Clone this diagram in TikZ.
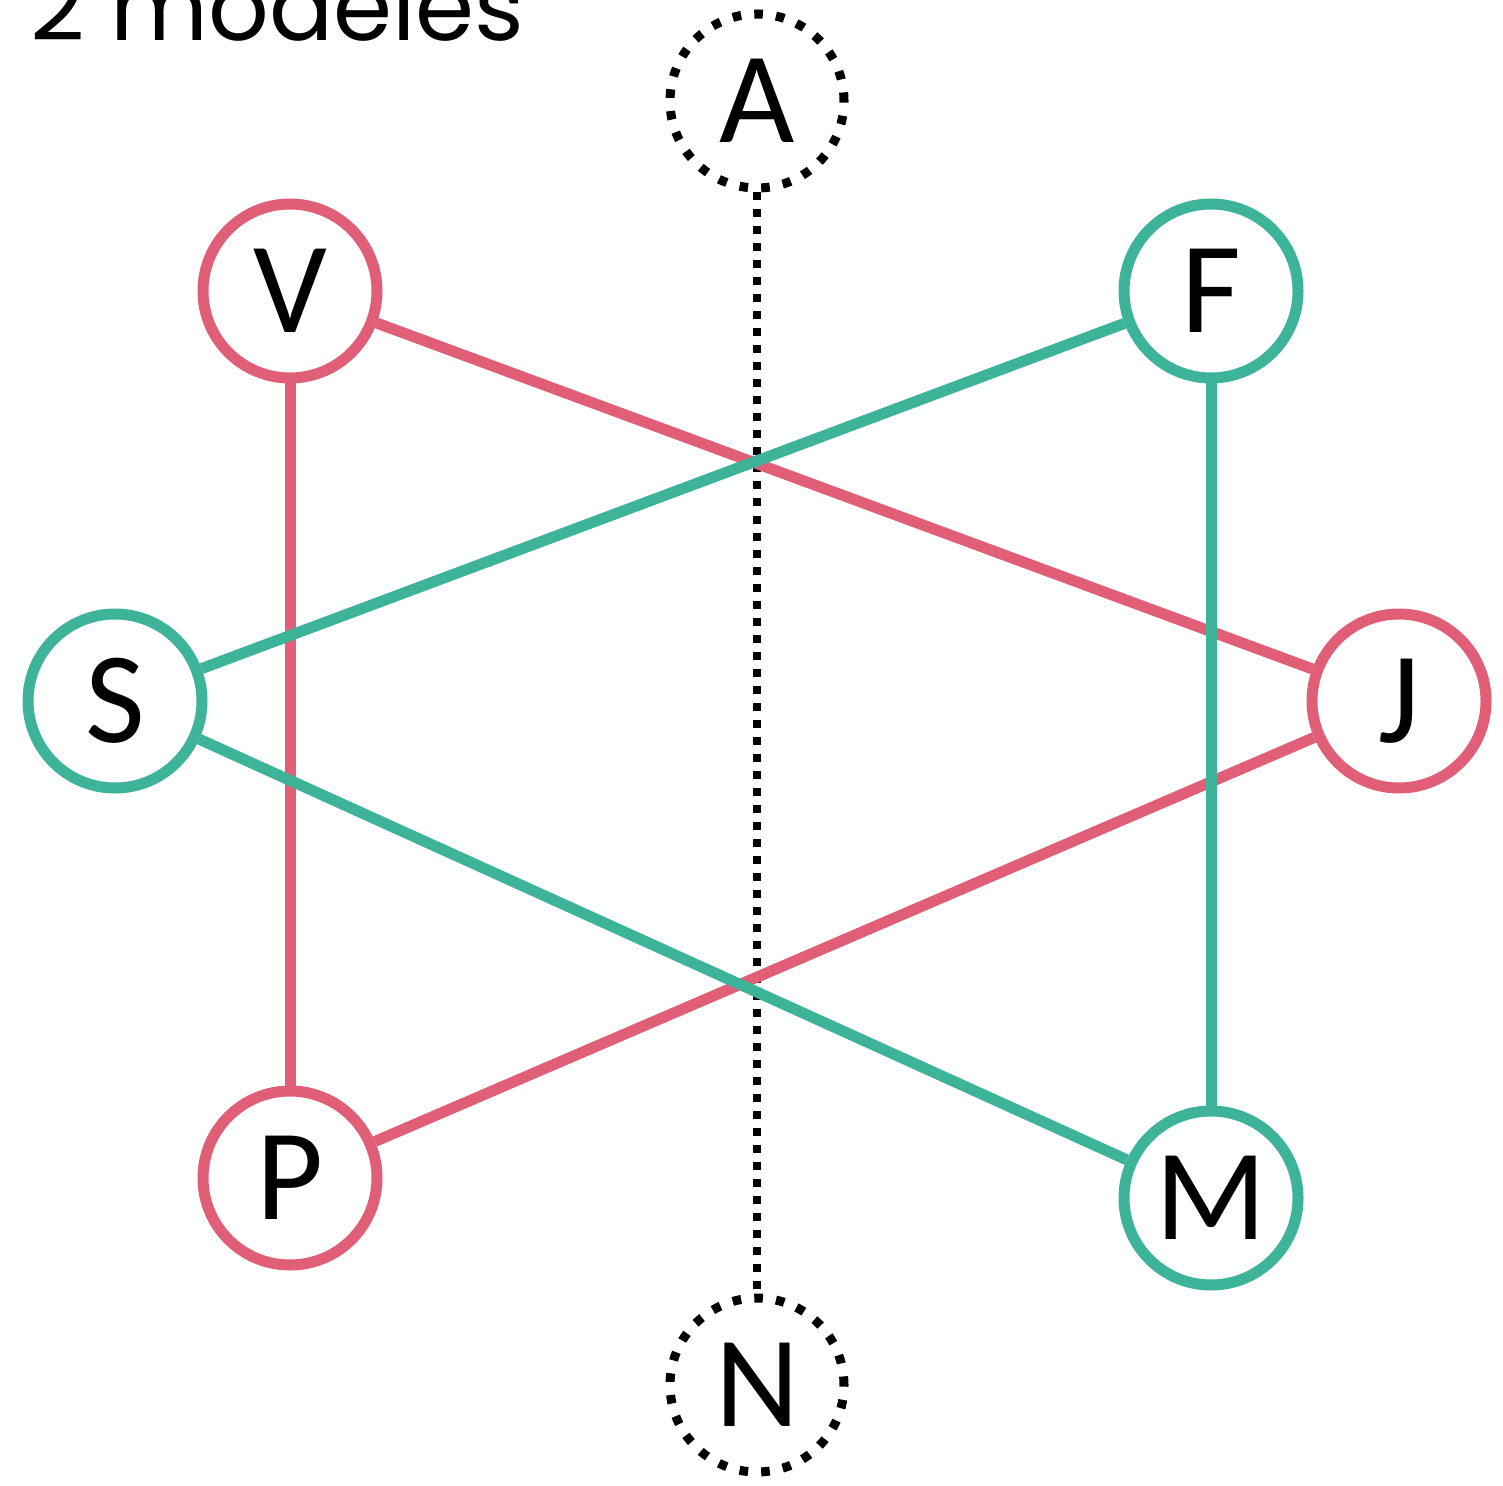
\documentclass[tikz,border=0pt]{standalone}
\usepackage{fontspec}
\setmainfont{Carlito}
\newfontfamily\titlefont{Poppins}
\definecolor{pinkc}{HTML}{E05E76}
\definecolor{tealc}{HTML}{3DB39A}
\begin{document}
\begin{tikzpicture}[x=0.5pt,y=-0.5pt,
  vtx/.style={circle,draw,line width=5.5pt,fill=white,minimum size=87pt,inner sep=0pt,font=\fontsize{65}{65}\selectfont},
  pinkv/.style={vtx,draw=pinkc},
  tealv/.style={vtx,draw=tealc},
  dotv/.style={vtx,draw=black,line width=4.5pt,dash pattern=on 4.3pt off 6.6pt},
  pinke/.style={draw=pinkc,line width=5.5pt},
  teale/.style={draw=tealc,line width=5.5pt},
  dote/.style={draw=black,line width=4pt,dash pattern=on 4pt off 4.5pt}]
\useasboundingbox (0,0) rectangle (1503,1486);
\node[anchor=base west,inner sep=0pt,font=\titlefont\fontsize{47.5}{47.5}\selectfont] (title) at (30,41) {2 modèles};
\node[dotv] (A) at (757,101) {A};
\node[dotv] (N) at (757,1385) {N};
\node[pinkv] (V) at (290,291) {V};
\node[tealv] (F) at (1211,291) {F};
\node[tealv] (S) at (115,701) {S};
\node[pinkv] (J) at (1399,701) {J};
\node[pinkv] (P) at (290,1178) {P};
\node[tealv] (M) at (1211,1198) {M};
\draw[dote] (A) -- (N);
\draw[pinke] (V) -- (J);
\draw[pinke] (V) -- (P);
\draw[pinke] (P) -- (J);
\draw[teale] (S) -- (F);
\draw[teale] (F) -- (M);
\draw[teale] (S) -- (M);
\end{tikzpicture}
\end{document}
